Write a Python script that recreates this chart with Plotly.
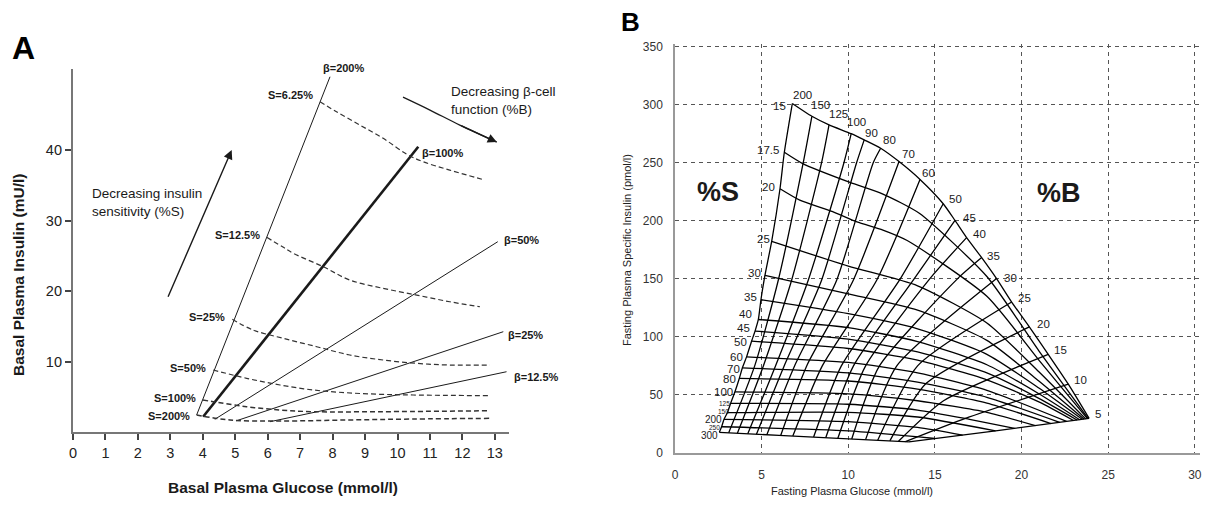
import plotly.graph_objects as go

FONT = "Liberation Sans, Arial, sans-serif"
W, H = 1212, 509
OFF = 8  # page body margin the figure sits inside


def px(x):
    return (x - OFF) / W


def py(y):
    return 1 - (y - OFF) / H


# ---------------- Panel A data ----------------
A_XTICKS = list(range(0, 14))
A_YTICKS = [10, 20, 30, 40]

BETA_NAMES = ["β=200%", "β=100%", "β=50%", "β=25%", "β=12.5%"]
BETA_G0 = [3.81, 4.01, 4.37, 5.04, 6.07]
BETA_I0 = [2.41, 2.17, 1.80, 1.60, 1.46]
BETA_G1 = [7.92, 10.64, 13.09, 13.26, 13.36]
BETA_I1 = [50.4, 40.47, 27.0, 14.23, 8.55]

SA_NAMES = ["S=6.25%", "S=12.5%", "S=25%", "S=50%", "S=100%", "S=200%"]
SA_G = [
    [7.61, 8.12, 8.84, 9.56, 10.28, 10.79, 11.61, 12.69],
    [5.97, 6.47, 6.79, 7.71, 8.53, 9.56, 10.59, 11.61, 12.54],
    [4.91, 5.55, 6.48, 7.51, 8.53, 9.56, 10.59, 11.61, 12.85],
    [4.32, 5.35, 6.38, 7.40, 8.43, 9.46, 10.48, 12.85],
    [4.00, 4.32, 5.35, 6.38, 7.40, 9.46, 12.85],
    [3.81, 4.84, 6.38, 8.43, 10.48, 12.85],
]
SA_I = [
    [46.85, 45.43, 43.55, 41.66, 39.43, 38.34, 37.16, 35.74],
    [27.62, 26.24, 25.35, 23.45, 21.56, 20.38, 19.43, 18.48, 17.77],
    [15.99, 14.47, 13.29, 12.10, 10.92, 10.21, 9.74, 9.50, 9.50],
    [8.79, 7.62, 6.67, 5.96, 5.57, 5.35, 5.25, 5.15],
    [4.54, 4.30, 3.59, 3.12, 2.88, 2.88, 3.02],
    [2.41, 1.70, 1.56, 1.70, 1.84, 1.94],
]

ARROW_S_TAIL = (2.91, 18.97)
ARROW_S_HEAD = (4.89, 40.0)
ARROW_B_G = [10.17, 11.0, 11.92, 13.06]
ARROW_B_I = [47.5, 45.67, 43.55, 41.13]

# ---------------- Panel B data ----------------
B_LEVELS = ["200", "150", "125", "100", "90", "80", "70", "60", "50", "45",
            "40", "35", "30", "25", "20", "15", "10", "5"]
S_LEVELS = ["15", "17.5", "20", "25", "30", "35", "40", "45", "50", "60",
            "70", "80", "100", "125", "150", "200", "250", "300"]

# %S = 15 curve (outer edge), one point per %B line
OUTER_G = [6.77, 7.90, 8.89, 10.17, 10.92, 11.87, 12.93, 14.14, 15.48, 16.16,
           16.83, 17.70, 18.56, 19.43, 20.45, 21.54, 22.70, 23.90]
OUTER_I = [301.0, 290.0, 282.6, 275.0, 269.7, 262.5, 251.0, 235.6, 214.7, 200.3,
           185.5, 168.3, 150.2, 130.0, 108.6, 85.0, 59.3, 29.8]

# %B = 200 line (left edge), one point per %S curve
LEFT_G = [6.77, 6.31, 6.06, 5.58, 5.19, 4.96, 4.81, 4.62, 4.42, 4.13,
          3.89, 3.71, 3.46, 3.21, 3.02, 2.83, 2.69, 2.56]
LEFT_I = [301.0, 259.0, 227.6, 182.3, 153.0, 132.0, 115.0, 105.0, 96.3, 82.8,
          73.4, 64.2, 52.7, 42.7, 34.7, 29.0, 22.6, 17.8]

# remaining points of each %B line (below its outer-edge point), %B=150 ... 5
BLINE_G = [
    [7.40, 5.96, 4.60, 3.10],
    [8.46, 6.73, 5.10, 3.60],
    [9.75, 7.69, 5.80, 4.20],
    [10.48, 8.46, 6.30, 4.70],
    [11.44, 9.33, 6.90, 5.30],
    [10.29, 7.60, 6.10],
    [11.64, 8.50, 6.80],
    [13.00, 9.60, 8.00],
    [13.80, 10.30, 8.70],
    [14.70, 11.00, 9.40],
    [16.30, 11.80, 10.20],
    [12.80, 11.00],
    [14.00, 11.70],
    [14.50, 12.40],
    [15.50, 12.90],
    [16.80, 13.30],
    [18.50, 13.50],
]
BLINE_I = [
    [250.0, 148.8, 75.0, 17.4],
    [250.0, 148.8, 75.0, 17.0],
    [250.0, 148.8, 75.0, 16.6],
    [250.0, 148.8, 75.0, 16.2],
    [250.0, 148.8, 75.0, 15.7],
    [148.8, 75.0, 15.1],
    [148.8, 75.0, 14.6],
    [150.0, 75.0, 13.7],
    [150.0, 75.0, 13.2],
    [150.0, 75.0, 12.7],
    [150.0, 75.0, 12.1],
    [75.0, 11.5],
    [75.0, 11.0],
    [60.0, 10.4],
    [45.0, 10.1],
    [30.0, 9.8],
    [19.0, 9.6],
]

# remaining points of each %S curve (right of its left-edge point), %S=17.5 ... 300
SCURVE_G = [
    [7.4, 10.1, 12.0, 14.1, 18, 21, 23.85],
    [7.2, 9.1, 10.5, 12.0, 13.4, 18, 21, 23.80],
    [10, 14, 18, 21, 23.70],
    [10, 14, 18, 21, 23.60],
    [10, 14, 18, 21, 23.50],
    [10, 14, 18, 21, 23.35],
    [10, 14, 18, 21, 23.20],
    [10, 14, 18, 21, 23.00],
    [10, 14, 18, 22.60],
    [10, 14, 18, 22.20],
    [10, 14, 18, 21.70],
    [10, 14, 18, 20.80],
    [10, 14, 17, 19.60],
    [10, 14, 18.50],
    [10, 14, 16.60],
    [10, 15.00],
    [6, 10, 13.50],
]
SCURVE_I = [
    [249, 233, 223, 206.5, 152, 88, 29.7],
    [217.8, 207.8, 199, 192, 183, 135, 80, 29.6],
    [161, 144, 112, 70, 29.4],
    [137, 123, 97, 62, 29.2],
    [120, 107, 85, 56, 29.0],
    [108, 96, 76, 51, 28.7],
    [98, 87, 69, 47, 28.4],
    [90, 80, 63, 44, 28.0],
    [78, 69, 54, 27.2],
    [69, 61, 48, 26.4],
    [62, 55, 43, 25.4],
    [51, 45, 35, 23.6],
    [42, 37, 29, 21.3],
    [35, 31, 19.1],
    [27, 22, 15.4],
    [19, 12.5],
    [15.2, 12.2, 9.6],
]

# label offsets (pixels) from the curve end points
B_LABEL_SHIFT = [(10, 9), (9, 11), (9, 11), (5, 12), (7, 7), (9, 8), (9, 8), (8, 6), (12, 5),
                 (14, 2), (13, 4), (12, 2), (14, 1), (13, 4), (14, 3), (12, 4), (12, 4), (9, 4)]
S_LABEL_SHIFT = [(-13, -2), (-16, 2), (-12, 2), (-8, 2), (-10, 2), (-10, 3), (-13, 5), (-12, 3),
                 (-11, -1), (-10, 0), (-9, -1), (-10, -1), (-11, 0), (-6, 0), (-4, 1),
                 (-11, 0), (-7, -1), (-10, -3)]

# ---------------- figure ----------------
fig = go.Figure()
INK = "#1a1a1a"
A_XMAX = 13.45
A_UNIT = 32.45  # pixels per mmol/l on panel A

for k, name in enumerate(BETA_NAMES):
    fig.add_trace(go.Scatter(
        x=[BETA_G0[k], BETA_G1[k]], y=[BETA_I0[k], BETA_I1[k]], mode="lines",
        line=dict(color=INK, width=2.6 if name == "β=100%" else 1.0),
        xaxis="x", yaxis="y", hoverinfo="skip"))

for k, name in enumerate(SA_NAMES):
    fig.add_trace(go.Scatter(
        x=SA_G[k], y=SA_I[k], mode="lines",
        line=dict(color="#333", width=1.5 if k >= 4 else 1.2, dash="5px,3px", shape="spline"),
        xaxis="x", yaxis="y", hoverinfo="skip"))

fig.add_trace(go.Scatter(x=ARROW_B_G, y=ARROW_B_I, mode="lines",
                         line=dict(color=INK, width=1.3, shape="spline"),
                         xaxis="x", yaxis="y", hoverinfo="skip"))

MESH = dict(color="black", width=1.3, shape="spline", smoothing=0.6)
fig.add_trace(go.Scatter(x=LEFT_G, y=LEFT_I, mode="lines", line=MESH,
                         xaxis="x2", yaxis="y2", hoverinfo="skip"))
for j in range(1, len(B_LEVELS)):
    fig.add_trace(go.Scatter(x=[OUTER_G[j]] + BLINE_G[j - 1], y=[OUTER_I[j]] + BLINE_I[j - 1],
                             mode="lines", line=MESH, xaxis="x2", yaxis="y2", hoverinfo="skip"))
fig.add_trace(go.Scatter(x=OUTER_G, y=OUTER_I, mode="lines", line=MESH,
                         xaxis="x2", yaxis="y2", hoverinfo="skip"))
for k in range(1, len(S_LEVELS)):
    fig.add_trace(go.Scatter(x=[LEFT_G[k]] + SCURVE_G[k - 1], y=[LEFT_I[k]] + SCURVE_I[k - 1],
                             mode="lines", line=MESH, xaxis="x2", yaxis="y2", hoverinfo="skip"))

ann = []
for k, name in enumerate(SA_NAMES):
    ann.append(dict(x=SA_G[k][0], y=SA_I[k][0], xref="x", yref="y", text=f"<b>{name}</b>",
                    showarrow=False, xanchor="right", yanchor="middle",
                    xshift=-5, yshift=7 if k == 0 else (2 if k < 5 else -1),
                    font=dict(family=FONT, size=11, color=INK)))
BETA_SHIFT = [(-9, 9), (2, -6), (4, 2), (3, -3), (5, -5)]
for k, name in enumerate(BETA_NAMES):
    gx = min(BETA_G1[k], 13.0)
    extra = (BETA_G1[k] - gx) * A_UNIT
    ann.append(dict(x=gx, y=BETA_I1[k], xref="x", yref="y", text=f"<b>{name}</b>",
                    showarrow=False, xanchor="left", yanchor="middle",
                    xshift=BETA_SHIFT[k][0] + extra, yshift=BETA_SHIFT[k][1],
                    font=dict(family=FONT, size=11, color=INK)))
ann.append(dict(x=ARROW_S_HEAD[0], y=ARROW_S_HEAD[1], ax=ARROW_S_TAIL[0], ay=ARROW_S_TAIL[1],
                xref="x", yref="y", axref="x", ayref="y", showarrow=True,
                arrowhead=2, arrowsize=1.3, arrowwidth=1.4, arrowcolor=INK, text=""))
ann.append(dict(x=ARROW_B_G[-1], y=ARROW_B_I[-1], ax=ARROW_B_G[-2], ay=ARROW_B_I[-2],
                xref="x", yref="y", axref="x", ayref="y", showarrow=True,
                arrowhead=2, arrowsize=1.3, arrowwidth=1.4, arrowcolor=INK, text=""))
ann.append(dict(x=0.52, y=32.5, xref="x", yref="y", text="Decreasing insulin<br>sensitivity (%S)",
                showarrow=False, xanchor="left", yanchor="middle", align="left",
                font=dict(family=FONT, size=13.5, color=INK)))
ann.append(dict(x=11.58, y=47.1, xref="x", yref="y", text="Decreasing β-cell<br>function (%B)",
                showarrow=False, xanchor="left", yanchor="middle", align="left",
                font=dict(family=FONT, size=13.5, color=INK)))
ann.append(dict(x=px(18), y=py(275), xref="paper", yref="paper",
                text="<b>Basal Plasma Insulin (mU/l)</b>", textangle=-90, showarrow=False,
                font=dict(family=FONT, size=15.5, color=INK), xanchor="center", yanchor="middle"))
ann.append(dict(x=px(283), y=py(487), xref="paper", yref="paper",
                text="<b>Basal Plasma Glucose (mmol/l)</b>", showarrow=False,
                font=dict(family=FONT, size=15.5, color=INK), xanchor="center", yanchor="middle"))
ann.append(dict(x=px(23), y=py(48), xref="paper", yref="paper", text="<b>A</b>",
                showarrow=False, font=dict(family=FONT, size=32, color="black"),
                xanchor="center", yanchor="middle"))
ann.append(dict(x=px(630), y=py(22), xref="paper", yref="paper", text="<b>B</b>",
                showarrow=False, font=dict(family=FONT, size=26, color="black"),
                xanchor="center", yanchor="middle"))

for k, s in enumerate(S_LEVELS):
    small = s in ("125", "150", "250")
    ann.append(dict(x=LEFT_G[k], y=LEFT_I[k], xref="x2", yref="y2", text=s, showarrow=False,
                    xanchor="center", yanchor="middle",
                    xshift=S_LABEL_SHIFT[k][0], yshift=S_LABEL_SHIFT[k][1],
                    font=dict(family=FONT, size=6.5 if small else (10 if k >= 15 else 11.5),
                              color=INK)))
for j, b in enumerate(B_LEVELS):
    ann.append(dict(x=OUTER_G[j], y=OUTER_I[j], xref="x2", yref="y2", text=b, showarrow=False,
                    xanchor="center", yanchor="middle",
                    xshift=B_LABEL_SHIFT[j][0], yshift=B_LABEL_SHIFT[j][1],
                    font=dict(family=FONT, size=11.5, color=INK)))
ann.append(dict(x=2.48, y=224.8, xref="x2", yref="y2", text="<b>%S</b>", showarrow=False,
                font=dict(family=FONT, size=27, color=INK)))
ann.append(dict(x=22.16, y=224.0, xref="x2", yref="y2", text="<b>%B</b>", showarrow=False,
                font=dict(family=FONT, size=27, color=INK)))
ann.append(dict(x=px(627), y=py(250), xref="paper", yref="paper",
                text="Fasting Plasma Specific Insulin (pmol/l)", textangle=-90, showarrow=False,
                font=dict(family=FONT, size=11, color="#222")))
ann.append(dict(x=px(935), y=py(499), xref="paper", yref="paper",
                text="Fasting Plasma Glucose (mmol/l)", showarrow=False,
                font=dict(family=FONT, size=11, color="#222")))

fig.update_layout(
    width=W, height=H, margin=dict(l=0, r=0, t=0, b=0, autoexpand=False),
    paper_bgcolor="white", plot_bgcolor="white", showlegend=False,
    annotations=ann,
    xaxis=dict(domain=[px(73), px(73 + A_XMAX * A_UNIT)], range=[0, A_XMAX], tickvals=A_XTICKS,
               ticktext=[str(v) for v in A_XTICKS], showline=True, linecolor="#777", linewidth=2.2,
               ticks="outside", ticklen=6, tickwidth=1.5, tickcolor="#444", showgrid=False,
               zeroline=False, automargin=False,
               tickfont=dict(family=FONT, size=14.5, color="#222"), anchor="y"),
    yaxis=dict(domain=[py(432), py(69)], range=[0, 51.5], tickvals=A_YTICKS,
               ticktext=[str(v) for v in A_YTICKS], showline=True, linecolor="#777", linewidth=2.2,
               ticks="outside", ticklen=6, tickwidth=1.5, tickcolor="#444", showgrid=False,
               zeroline=False, automargin=False,
               tickfont=dict(family=FONT, size=14.5, color="#222"), anchor="x"),
    xaxis2=dict(domain=[px(675), px(1200)], range=[0, 30.3], dtick=5, tick0=0,
                showline=True, linecolor="#999", linewidth=1.5, showgrid=True, gridcolor="#555",
                griddash="4px,4px", gridwidth=1, zeroline=False, ticks="", automargin=False,
                ticklabelstandoff=10,
                tickfont=dict(family=FONT, size=12, color="#333"), anchor="y2"),
    yaxis2=dict(domain=[py(453), py(44.3)], range=[0, 352], dtick=50, tick0=0,
                showline=True, linecolor="#999", linewidth=1.5, showgrid=True, gridcolor="#555",
                griddash="4px,4px", gridwidth=1, zeroline=False, ticks="", automargin=False,
                ticklabelstandoff=8,
                tickfont=dict(family=FONT, size=12, color="#333"), anchor="x2"),
)

fig.write_html("out.html")
